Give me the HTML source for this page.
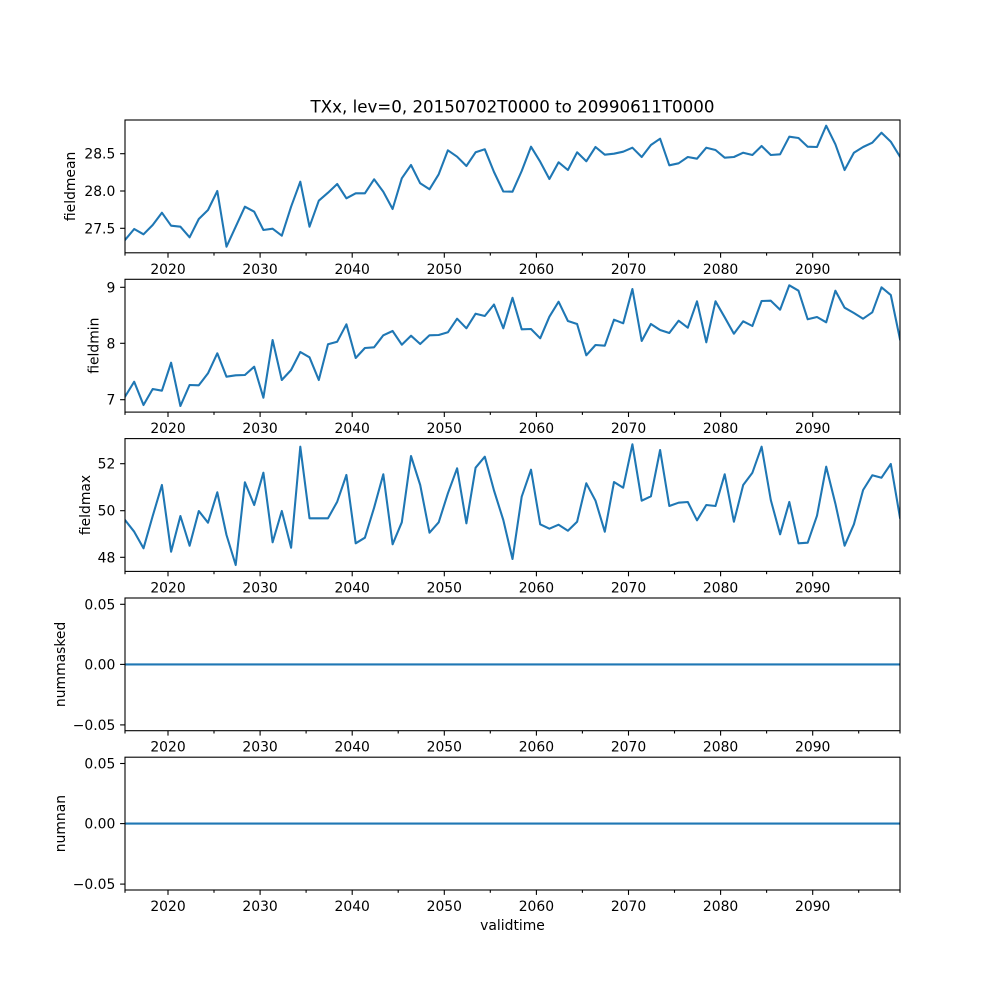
<!DOCTYPE html>
<html>
<head>
<meta charset="utf-8">
<style>
html,body{margin:0;padding:0;background:#fff;}
svg{display:block;}
text{font-family:"DejaVu Sans","Liberation Sans",sans-serif;fill:#000;}
.tk{font-size:13.9px;}
</style>
</head>
<body>
<svg width="1000" height="1000" viewBox="0 0 1000 1000" xmlns="http://www.w3.org/2000/svg">
<defs>
<clipPath id="c1"><rect x="125" y="120" width="775" height="132.8"/></clipPath>
<clipPath id="c2"><rect x="125" y="279.3" width="775" height="132.8"/></clipPath>
<clipPath id="c3"><rect x="125" y="438.6" width="775" height="132.8"/></clipPath>
<clipPath id="c4"><rect x="125" y="598" width="775" height="132.7"/></clipPath>
<clipPath id="c5"><rect x="125" y="757.2" width="775" height="132.8"/></clipPath>
</defs>
<rect width="1000" height="1000" fill="#fff"/>

<text x="512.5" y="112.3" font-size="16.67" text-anchor="middle">TXx, lev=0, 20150702T0000 to 20990611T0000</text>

<!-- Panel 1 -->
<polyline clip-path="url(#c1)" fill="none" stroke="#1f77b4" stroke-width="2.08" stroke-linejoin="round" stroke-linecap="square" points="125,240 134.2,229 143.5,234.3 152.7,225 161.9,212.7 171.1,225.7 180.4,226.7 189.6,237.3 198.8,219 208,210 217.3,191 226.5,246.7 235.7,226.7 244.9,206.7 254.2,211.7 263.4,230 272.6,228.7 281.8,235.7 291.1,206.7 300.3,181.7 309.5,226.7 318.8,200.7 328,192.7 337.2,184 346.4,198.3 355.7,193.3 364.9,193.3 374.1,179.3 383.3,191.7 392.6,209 401.8,178.3 411,165 420.2,183.3 429.5,189.3 438.7,174.3 447.9,150.3 457.1,156.7 466.4,166 475.6,152.3 484.8,149.3 494,172 503.3,191.5 512.5,191.7 521.7,171 531,146.7 540.2,161.7 549.4,179 558.6,162.3 567.9,170 577.1,152.3 586.3,161.3 595.5,147 604.8,154.7 614,153.7 623.2,151.7 632.4,147.7 641.7,157 650.9,145 660.1,138.7 669.3,165.3 678.6,163.3 687.8,157 697,158.7 706.3,147.7 715.5,150 724.7,157.7 733.9,157 743.2,152.7 752.4,155 761.6,146 770.8,155 780.1,154.3 789.3,136.7 798.5,138 807.7,146.7 817,147 826.2,125.7 835.4,144.3 844.6,170 853.9,152.7 863.1,147 872.3,142.7 881.5,132.7 890.8,141.7 900,156.7"/>
<rect x="125" y="120" width="775" height="132.8" fill="none" stroke="#000" stroke-width="1.1"/>
<g stroke="#000" stroke-width="1.1">
<line x1="125" x2="120.1" y1="153.7" y2="153.7"/><line x1="125" x2="120.1" y1="191" y2="191"/><line x1="125" x2="120.1" y1="228.3" y2="228.3"/>
</g>
<g class="tk" text-anchor="end">
<text x="115.3" y="158.7">28.5</text><text x="115.3" y="196">28.0</text><text x="115.3" y="233.3">27.5</text>
</g>
<text transform="translate(75,186.4) rotate(-90)" font-size="13.9" text-anchor="middle">fieldmean</text>

<!-- Panel 2 -->
<polyline clip-path="url(#c2)" fill="none" stroke="#1f77b4" stroke-width="2.08" stroke-linejoin="round" stroke-linecap="square" points="125,396.7 134.2,381.7 143.5,405 152.7,389 161.9,390.7 171.1,362.7 180.4,406 189.6,385 198.8,385.3 208,373.3 217.3,353.3 226.5,376.7 235.7,375.3 244.9,375 254.2,366.7 263.4,397.7 272.6,340 281.8,380 291.1,370 300.3,352 309.5,357.3 318.8,380 328,344.3 337.2,341.7 346.4,324.3 355.7,358 364.9,348 374.1,347.3 383.3,335.3 392.6,331 401.8,344.7 411,335.7 420.2,344 429.5,335.3 438.7,335 447.9,332.3 457.1,318.7 466.4,328.3 475.6,313.7 484.8,316 494,304.5 503.3,328.3 512.5,297.8 521.7,329.3 531,329 540.2,338.3 549.4,316.7 558.6,301.7 567.9,321 577.1,324 586.3,355.3 595.5,345 604.8,345.7 614,319.7 623.2,323.3 632.4,289 641.7,341 650.9,324 660.1,330 669.3,333 678.6,320.7 687.8,327.7 697,301.3 706.3,342.3 715.5,301.3 724.7,317.3 733.9,333.7 743.2,321.3 752.4,326 761.6,301 770.8,300.7 780.1,309.7 789.3,285.3 798.5,290.7 807.7,319.3 817,317 826.2,322.3 835.4,290.7 844.6,307.7 853.9,313 863.1,318.7 872.3,312.3 881.5,287.3 890.8,295 900,339.3"/>
<rect x="125" y="279.3" width="775" height="132.8" fill="none" stroke="#000" stroke-width="1.1"/>
<g stroke="#000" stroke-width="1.1">
<line x1="125" x2="120.1" y1="287.3" y2="287.3"/><line x1="125" x2="120.1" y1="343.3" y2="343.3"/><line x1="125" x2="120.1" y1="399.7" y2="399.7"/>
</g>
<g class="tk" text-anchor="end">
<text x="115.3" y="292.3">9</text><text x="115.3" y="348.3">8</text><text x="115.3" y="404.7">7</text>
</g>
<text transform="translate(98.3,345.7) rotate(-90)" font-size="13.9" text-anchor="middle">fieldmin</text>

<!-- Panel 3 -->
<polyline clip-path="url(#c3)" fill="none" stroke="#1f77b4" stroke-width="2.08" stroke-linejoin="round" stroke-linecap="square" points="125,520 134.2,531.7 143.5,548.3 152.7,516 161.9,485 171.1,551.7 180.4,516 189.6,545.7 198.8,511 208,522.7 217.3,492.3 226.5,535 235.7,565 244.9,482.3 254.2,505 263.4,472.7 272.6,542.3 281.8,511 291.1,547.7 300.3,446.7 309.5,518.3 318.8,518.3 328,518.3 337.2,501.7 346.4,475 355.7,543.3 364.9,537.7 374.1,507.7 383.3,474.3 392.6,544.3 401.8,522.3 411,456 420.2,485 429.5,532.7 438.7,522.3 447.9,493.3 457.1,468.3 466.4,523.3 475.6,467.7 484.8,456.7 494,490.5 503.3,520 512.5,559 521.7,496.7 531,469.7 540.2,524.3 549.4,528.7 558.6,524.7 567.9,530.7 577.1,521.7 586.3,483.3 595.5,500.7 604.8,531.7 614,482 623.2,487.7 632.4,444.3 641.7,500.7 650.9,496.3 660.1,450 669.3,506 678.6,502.7 687.8,502 697,520.3 706.3,505 715.5,506 724.7,474.3 733.9,521.7 743.2,485 752.4,472.7 761.6,446.7 770.8,500 780.1,534.3 789.3,502 798.5,543.3 807.7,542.7 817,515.7 826.2,466.7 835.4,503.7 844.6,545.7 853.9,524.3 863.1,490 872.3,475.3 881.5,477.7 890.8,464 900,517.7"/>
<rect x="125" y="438.6" width="775" height="132.8" fill="none" stroke="#000" stroke-width="1.1"/>
<g stroke="#000" stroke-width="1.1">
<line x1="125" x2="120.1" y1="463.7" y2="463.7"/><line x1="125" x2="120.1" y1="510.7" y2="510.7"/><line x1="125" x2="120.1" y1="557.3" y2="557.3"/>
</g>
<g class="tk" text-anchor="end">
<text x="115.3" y="468.7">52</text><text x="115.3" y="515.7">50</text><text x="115.3" y="562.3">48</text>
</g>
<text transform="translate(90,505) rotate(-90)" font-size="13.9" text-anchor="middle">fieldmax</text>

<!-- Panel 4 -->
<line clip-path="url(#c4)" x1="125" x2="900" y1="664.4" y2="664.4" stroke="#1f77b4" stroke-width="2.08"/>
<rect x="125" y="598" width="775" height="132.7" fill="none" stroke="#000" stroke-width="1.1"/>
<g stroke="#000" stroke-width="1.1">
<line x1="125" x2="120.1" y1="604.3" y2="604.3"/><line x1="125" x2="120.1" y1="664.4" y2="664.4"/><line x1="125" x2="120.1" y1="724.9" y2="724.9"/>
</g>
<g class="tk" text-anchor="end">
<text x="115.3" y="609.3">0.05</text><text x="115.3" y="669.4">0.00</text><text x="115.3" y="729.9">−0.05</text>
</g>
<text transform="translate(65,664.4) rotate(-90)" font-size="13.9" text-anchor="middle">nummasked</text>

<!-- Panel 5 -->
<line clip-path="url(#c5)" x1="125" x2="900" y1="823.6" y2="823.6" stroke="#1f77b4" stroke-width="2.08"/>
<rect x="125" y="757.2" width="775" height="132.8" fill="none" stroke="#000" stroke-width="1.1"/>
<g stroke="#000" stroke-width="1.1">
<line x1="125" x2="120.1" y1="763.5" y2="763.5"/><line x1="125" x2="120.1" y1="823.6" y2="823.6"/><line x1="125" x2="120.1" y1="884.1" y2="884.1"/>
</g>
<g class="tk" text-anchor="end">
<text x="115.3" y="768.5">0.05</text><text x="115.3" y="828.6">0.00</text><text x="115.3" y="889.1">−0.05</text>
</g>
<text transform="translate(65,823.6) rotate(-90)" font-size="13.9" text-anchor="middle">numnan</text>

<!-- X ticks for all panels -->
<g id="xt1">
<g stroke="#000" stroke-width="1.1">
<line x1="168" x2="168" y1="252.8" y2="257.7"/><line x1="260.1" x2="260.1" y1="252.8" y2="257.7"/><line x1="352.2" x2="352.2" y1="252.8" y2="257.7"/><line x1="444.3" x2="444.3" y1="252.8" y2="257.7"/><line x1="536.4" x2="536.4" y1="252.8" y2="257.7"/><line x1="628.5" x2="628.5" y1="252.8" y2="257.7"/><line x1="720.6" x2="720.6" y1="252.8" y2="257.7"/><line x1="812.7" x2="812.7" y1="252.8" y2="257.7"/>
<line x1="125" x2="125" y1="252.8" y2="255.6"/><line x1="214" x2="214" y1="252.8" y2="255.6"/><line x1="306.1" x2="306.1" y1="252.8" y2="255.6"/><line x1="398.2" x2="398.2" y1="252.8" y2="255.6"/><line x1="490.3" x2="490.3" y1="252.8" y2="255.6"/><line x1="582.4" x2="582.4" y1="252.8" y2="255.6"/><line x1="674.5" x2="674.5" y1="252.8" y2="255.6"/><line x1="766.6" x2="766.6" y1="252.8" y2="255.6"/><line x1="858.7" x2="858.7" y1="252.8" y2="255.6"/><line x1="900" x2="900" y1="252.8" y2="255.6"/>
</g>
<g class="tk" text-anchor="middle">
<text x="168" y="273.8">2020</text><text x="260.1" y="273.8">2030</text><text x="352.2" y="273.8">2040</text><text x="444.3" y="273.8">2050</text><text x="536.4" y="273.8">2060</text><text x="628.5" y="273.8">2070</text><text x="720.6" y="273.8">2080</text><text x="812.7" y="273.8">2090</text>
</g>
</g>
<use href="#xt1" transform="translate(0,159.3)"/>
<use href="#xt1" transform="translate(0,318.6)"/>
<use href="#xt1" transform="translate(0,477.9)"/>
<use href="#xt1" transform="translate(0,637.2)"/>

<text x="512.5" y="930" font-size="13.9" text-anchor="middle">validtime</text>
</svg>
</body>
</html>
